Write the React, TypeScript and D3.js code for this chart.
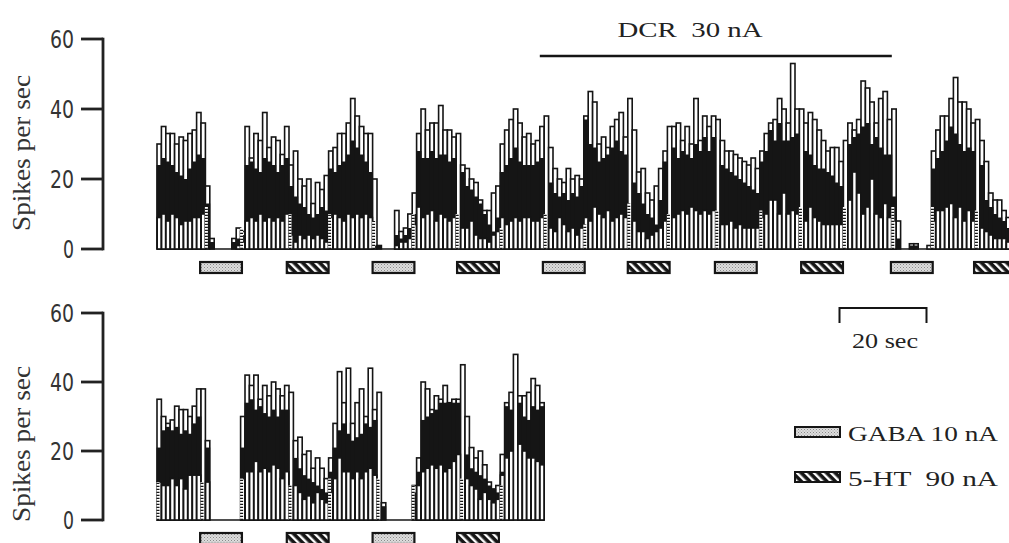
import React from 'react';
import * as d3 from 'd3';

// ---------- DATA (1-s bins, spikes per sec) ----------
// top record: per bin peak (hi), black envelope top (mid), low bar (lo)
const topHi = [
  30, 35, 33, 33, 30, 32, 31, 33, 34, 39, 36, 18, 3, 0, 0, 0, 0, 3, 6, 5,
  35, 26, 33, 31, 39, 29, 32, 31, 27, 35,
  24, 28, 20, 18, 20, 13, 19, 17, 21,
  28, 29, 33, 33, 36, 43, 38, 35, 33, 33, 20, 1, 0, 0, 0, 11, 5, 6, 10,
  16, 33, 40, 34, 36, 36, 41, 34, 34, 32,
  33, 24, 23, 20, 19, 14, 11, 11, 16, 18,
  30, 34, 37, 40, 36, 32, 33, 30, 31, 35,
  38, 29, 23, 20, 19, 23, 20, 21, 20,
  38, 45, 42, 30, 32, 29, 35, 37, 39, 32,
  43, 34, 22, 23, 16, 14, 18, 23, 28,
  35, 35, 36, 31, 35, 30, 43, 31, 38, 35, 38, 37,
  31, 28, 28, 27, 26, 25, 24, 26, 23,
  28, 33, 36, 37, 43, 40, 36, 53, 40, 40,
  36, 39, 37, 34, 31, 28, 29, 29, 25, 31,
  36, 34, 37, 48, 46, 42, 36, 43, 45, 37, 40, 8, 0, 0, 1.5, 1.5, 0, 0, 1,
  28, 34, 38, 38, 43, 49, 42, 42, 40, 36, 37,
  31, 25, 16, 14, 14, 11, 9,
];
const topMid = [
  24, 26, 25, 24, 22, 21, 20, 23, 25, 27, 26, 13, 2, 0, 0, 0, 0, 2, 3, 4,
  24, 25, 23, 22, 26, 25, 24, 22, 24, 26,
  18, 15, 13, 12, 10, 9, 10, 12, 11,
  23, 22, 24, 25, 27, 31, 29, 27, 25, 22, 1, 1, 0, 0, 0, 4, 3, 4, 6,
  10, 28, 26, 26, 28, 26, 27, 27, 25, 26,
  0, 22, 18, 17, 15, 13, 10, 7, 5, 9,
  22, 24, 26, 29, 25, 24, 24, 24, 25, 26,
  0, 19, 16, 15, 16, 14, 16, 15, 18,
  37, 30, 29, 25, 26, 27, 29, 31, 28, 27,
  0, 19, 16, 13, 10, 9, 7, 14, 25,
  0, 29, 26, 28, 27, 26, 30, 28, 32, 28, 32, 0,
  24, 23, 22, 21, 20, 19, 18, 17, 16,
  25, 28, 34, 31, 36, 31, 31, 32, 33, 0,
  28, 27, 24, 23, 23, 22, 21, 19, 18, 0,
  30, 32, 33, 35, 36, 30, 32, 29, 27, 27, 15, 3, 0, 0, 1, 1, 0, 0, 0,
  23, 26, 28, 31, 35, 33, 30, 28, 29, 28, 0,
  24, 14, 12, 10, 9, 8, 6,
];
const topLo = [
  9, 10, 8, 10, 9, 7, 8, 8, 9, 9, 10, 0, 0, 0, 0, 0, 0, 0, 1, 2,
  8, 9, 8, 10, 8, 9, 8, 9, 8, 10,
  4, 2, 4, 3, 4, 3, 4, 3, 2,
  9, 10, 9, 8, 10, 9, 10, 9, 10, 9, 0, 0, 0, 0, 0, 1, 2, 2, 3,
  7, 12, 9, 10, 11, 8, 10, 9, 8, 9,
  0, 6, 6, 8, 4, 3, 3, 2, 4, 5,
  9, 7, 8, 9, 8, 9, 9, 8, 8, 9,
  0, 6, 5, 9, 7, 5, 6, 4, 6,
  9, 8, 12, 10, 9, 11, 8, 9, 10, 9,
  0, 8, 5, 5, 3, 4, 5, 6, 8,
  0, 9, 10, 11, 10, 12, 11, 10, 11, 10, 11, 0,
  7, 7, 8, 6, 7, 6, 6, 6, 6,
  9, 10, 14, 14, 10, 16, 10, 11, 10, 0,
  8, 12, 9, 8, 7, 7, 7, 7, 7, 0,
  14, 22, 16, 10, 12, 20, 10, 9, 13, 9, 8, 0, 0, 0, 0, 0, 0, 0, 0,
  8, 11, 11, 12, 13, 9, 12, 8, 11, 8, 0,
  6, 5, 4, 3, 3, 3, 2,
];

// bottom record
const botHi = [
  35, 30, 28, 29, 33, 32, 32, 30, 33, 38, 38, 23, 0, 0, 0, 0, 0, 0, 0,
  30, 42, 39, 42, 35, 39, 36, 40, 38, 36, 39, 37,
  23, 24, 19, 20, 15, 18, 15, 12,
  18, 28, 43, 34, 44, 28, 34, 38, 30, 44, 32, 37, 5, 0, 0, 0, 0, 0, 0, 10,
  18, 40, 38, 32, 36, 35, 39, 34, 35, 35, 45,
  30, 21, 18, 20, 16, 11, 9, 10,
  19, 34, 37, 48, 36, 36, 37, 41, 39, 34,
];
const botMid = [
  21, 26, 27, 26, 27, 25, 26, 25, 28, 30, 0, 21, 0, 0, 0, 0, 0, 0, 0,
  21, 34, 35, 32, 33, 31, 30, 32, 30, 32, 32, 0,
  18, 15, 13, 12, 11, 10, 9, 8,
  14, 21, 26, 28, 25, 23, 24, 25, 28, 27, 29, 0, 4, 0, 0, 0, 0, 0, 0, 8,
  14, 29, 30, 31, 32, 34, 34, 34, 34, 34, 0,
  19, 15, 14, 13, 12, 10, 9, 8,
  14, 33, 32, 0, 34, 30, 29, 33, 32, 33,
];
const botLo = [
  11, 10, 10, 12, 10, 12, 9, 13, 13, 13, 0, 11, 0, 0, 0, 0, 0, 0, 0,
  12, 14, 14, 17, 14, 15, 14, 16, 15, 12, 14, 0,
  10, 8, 6, 7, 5, 8, 6, 5,
  8, 12, 18, 14, 14, 12, 14, 12, 14, 15, 13, 0, 0, 0, 0, 0, 0, 0, 0, 0,
  10, 14, 15, 16, 15, 16, 14, 15, 17, 19, 0,
  12, 10, 9, 6, 8, 6, 5, 6,
  13, 18, 20, 0, 22, 20, 18, 18, 17, 16,
];

// event marker bins (dotted ladders) and their heights
const topMarkerBins = [11, 19, 30, 39, 49, 58, 68, 78, 88, 97, 107, 116, 127, 137, 146, 156, 167, 176, 186];
const topMarkerH = [12, 6, 10, 10, 8, 10, 10, 6, 10, 7, 13, 10, 11, 11, 12, 12, 12, 12, 11];
const botMarkerBins = [0, 10, 19, 30, 39, 50, 58, 69, 78];
const botMarkerH = [11, 11, 12, 10, 12, 12, 10, 12, 10];

// drug application onsets (s) and duration
const gabaTop = [9.8, 49, 87.7, 126.8, 166.8];
const htTop = [29.5, 68.2, 107, 146.4, 185.7];
const gabaBot = [9.8, 49];
const htBot = [29.5, 68.2];
const stimDur = 9.5;
const dcrSpan = [87, 167];
const scaleBarSpan = [155, 175];

const yTicks = [0, 20, 40, 60];
const yLabel = 'Spikes per sec';

// ---------- LAYOUT ----------
const W = 1009;
const H = 543;
const X0 = 157;
const BIN_PX = 4.4;
const AXIS_X = 103;
const INK = '#151515';
const SERIF = "'Liberation Serif', 'Times New Roman', serif";
const SANS = "'DejaVu Sans Condensed', 'Liberation Sans Narrow', 'DejaVu Sans', sans-serif";

const x = d3.scaleLinear().domain([0, 200]).range([X0, X0 + 200 * BIN_PX]);

type PanelProps = {
  hi: number[]; mid: number[]; lo: number[];
  base: number; top: number;
  markers: number[]; markerH: number[];
  gaba: number[]; ht: number[];
  labelCy: number;
};

function Panel({ hi, mid, lo, base, top, markers, markerH, gaba, ht, labelCy }: PanelProps) {
  const y = d3.scaleLinear().domain([0, 60]).range([base, top]);
  const bw = x(1) - x(0);
  const n = hi.length;
  return (
    <g>
      {/* axis */}
      <line x1={AXIS_X} x2={AXIS_X} y1={y(60) - 1.3} y2={y(0) + 1.3} stroke="#222" strokeWidth={2.8} />
      {yTicks.map((t) => (
        <g key={t}>
          <line x1={81} x2={AXIS_X} y1={y(t)} y2={y(t)} stroke="#222" strokeWidth={2.8} />
          <text
            x={74}
            y={y(t)}
            dy="0.36em"
            textAnchor="end"
            fontFamily={SANS}
            fontSize={24}
            fill="#333"
            textLength={t === 0 ? 11 : 24}
            lengthAdjust="spacingAndGlyphs"
          >
            {t}
          </text>
        </g>
      ))}
      <text
        transform={`translate(30,${labelCy}) rotate(-90)`}
        textAnchor="middle"
        fontFamily={SERIF}
        fontSize={25}
        fill="#333"
        textLength={156}
        lengthAdjust="spacingAndGlyphs"
      >
        {yLabel}
      </text>

      {/* baseline */}
      <line x1={x(0)} x2={x(n)} y1={y(0)} y2={y(0)} stroke={INK} strokeWidth={1.6} />

      {/* peak bars */}
      {hi.map((v, i) =>
        v > 0 ? (
          <rect key={'h' + i} x={x(i)} width={bw} y={y(v)} height={y(0) - y(v)} fill="#fff" stroke={INK} strokeWidth={1.6} />
        ) : null
      )}
      {/* black envelope */}
      {mid.map((v, i) =>
        v > 0 ? (
          <rect key={'m' + i} x={x(i) - 0.4} width={bw + 0.8} y={y(v)} height={y(0) - y(v)} fill={INK} />
        ) : null
      )}
      {/* low bars */}
      {lo.map((v, i) =>
        v > 0 ? (
          <rect key={'l' + i} x={x(i) + 0.2} width={bw - 0.4} y={y(v)} height={y(0) - y(v)} fill="#fff" stroke={INK} strokeWidth={1.6} />
        ) : null
      )}
      {/* event markers */}
      {markers.map((b, k) => (
        <g key={'k' + k}>
          <rect x={x(b) - 0.5} width={3} y={y(markerH[k])} height={y(0) - y(markerH[k])} fill="#fff" />
          <line
            x1={x(b) + 1}
            x2={x(b) + 1}
            y1={y(0)}
            y2={y(markerH[k])}
            stroke={INK}
            strokeWidth={3}
            strokeDasharray="1.3 1.7"
          />
        </g>
      ))}

      {/* drug bars */}
      {gaba.map((t, k) => (
        <rect key={'g' + k} x={x(t)} width={x(t + stimDur) - x(t)} y={base + 13} height={11} fill="url(#gabaPat)" stroke={INK} strokeWidth={2.2} />
      ))}
      {ht.map((t, k) => (
        <rect key={'s' + k} x={x(t)} width={x(t + stimDur) - x(t)} y={base + 13} height={11} fill="url(#htPat)" stroke={INK} strokeWidth={2.2} />
      ))}
    </g>
  );
}

export default function App() {
  return (
    <svg width={W} height={H} style={{ position: 'absolute', left: 0, top: 0, background: '#fff' }}>
      <defs>
        <pattern id="gabaPat" width={3} height={3} patternUnits="userSpaceOnUse">
          <rect width={3} height={3} fill="#dedede" />
          <rect x={0} y={0} width={1} height={1} fill="#8a8a8a" />
          <rect x={1.5} y={1.5} width={1} height={1} fill="#a0a0a0" />
        </pattern>
        <pattern id="htPat" width={6} height={6} patternUnits="userSpaceOnUse" patternTransform="rotate(-45)">
          <rect width={6} height={6} fill={INK} />
          <rect x={0} y={0} width={2.4} height={6} fill="#fff" />
        </pattern>
      </defs>

      {/* top record */}
      <Panel
        hi={topHi} mid={topMid} lo={topLo}
        base={249} top={39}
        markers={topMarkerBins} markerH={topMarkerH}
        gaba={gabaTop} ht={htTop}
        labelCy={153}
      />
      {/* DCR line and label */}
      <line x1={x(dcrSpan[0])} x2={x(dcrSpan[1])} y1={56} y2={56} stroke={INK} strokeWidth={2.6} />
      <text x={690} y={37} textAnchor="middle" fontFamily={SERIF} fontSize={22} fill="#222" textLength={145} lengthAdjust="spacingAndGlyphs" xmlSpace="preserve">
        DCR  30 nA
      </text>

      {/* bottom record */}
      <Panel
        hi={botHi} mid={botMid} lo={botLo}
        base={520} top={313}
        markers={botMarkerBins} markerH={botMarkerH}
        gaba={gabaBot} ht={htBot}
        labelCy={444}
      />

      {/* time scale bar */}
      <path
        d={`M${x(scaleBarSpan[0]) + 0.5},323 V308 H${x(scaleBarSpan[1]) - 0.5} V323`}
        fill="none"
        stroke={INK}
        strokeWidth={2}
      />
      <text x={(x(scaleBarSpan[0]) + x(scaleBarSpan[1])) / 2 + 2} y={348} textAnchor="middle" fontFamily={SERIF} fontSize={22} fill="#222" textLength={66} lengthAdjust="spacingAndGlyphs">
        20 sec
      </text>

      {/* legend */}
      <rect x={795} y={427} width={45} height={10} fill="url(#gabaPat)" stroke={INK} strokeWidth={2} />
      <text x={848} y={441} fontFamily={SERIF} fontSize={22} fill="#222" textLength={150} lengthAdjust="spacingAndGlyphs">
        GABA 10 nA
      </text>
      <rect x={795} y={472} width={45} height={10} fill="url(#htPat)" stroke={INK} strokeWidth={2} />
      <text x={848} y={486} fontFamily={SERIF} fontSize={22} fill="#222" textLength={150} lengthAdjust="spacingAndGlyphs" xmlSpace="preserve">
        5-HT  90 nA
      </text>
    </svg>
  );
}
